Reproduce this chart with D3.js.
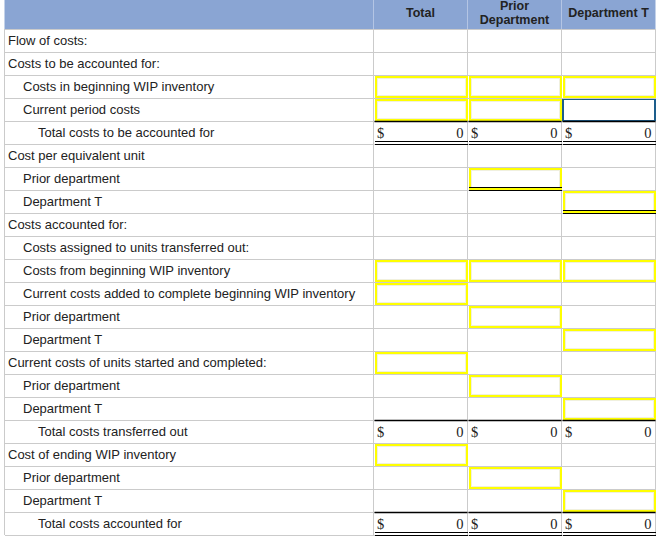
<!DOCTYPE html>
<html><head><meta charset="utf-8">
<script src="https://cdn.jsdelivr.net/npm/d3@7"></script>
<style>
html,body{margin:0;padding:0;background:#fff;}
svg{display:block;}
</style></head>
<body>
<svg id="c" width="656" height="549"></svg>
<script>
const columns = ["Total", "Prior Department", "Department T"];
const rowLabels = [
  "Flow of costs:",
  "Costs to be accounted for:",
  "Costs in beginning WIP inventory",
  "Current period costs",
  "Total costs to be accounted for",
  "Cost per equivalent unit",
  "Prior department",
  "Department T",
  "Costs accounted for:",
  "Costs assigned to units transferred out:",
  "Costs from beginning WIP inventory",
  "Current costs added to complete beginning WIP inventory",
  "Prior department",
  "Department T",
  "Current costs of units started and completed:",
  "Prior department",
  "Department T",
  "Total costs transferred out",
  "Cost of ending WIP inventory",
  "Prior department",
  "Department T",
  "Total costs accounted for"
];
const rowIndents = [0,0,1,1,2,0,1,1,0,1,1,1,1,1,0,1,1,2,0,1,1,2];
// input cells: [row, column index]
const inputCells = [
  [2,0],[2,1],[2,2],[3,0],[3,1],[3,2],
  [6,1],[7,2],
  [10,0],[10,1],[10,2],[11,0],[12,1],[13,2],
  [14,0],[15,1],[16,2],
  [18,0],[19,1],[20,2]
];
const activeCell = [3,2];
const totalRows = [4, 17, 21];
const totalValues = [[0,0,0],[0,0,0],[0,0,0]];
const doubleUnder = [[4,0],[4,1],[4,2],[6,1],[7,2],[21,0],[21,1],[21,2]];

(function(){
const svg = d3.select("#c");
const left = 4.5, labelRight = 373.5, right = 655.5, tableTop = 29, tableBottom = 535;
const y = d3.scaleBand().domain(d3.range(rowLabels.length)).range([tableTop, tableBottom]);
const x = d3.scaleBand().domain(d3.range(columns.length)).range([labelRight, right]);
const rh = y.bandwidth();

// header
svg.append("rect").attr("x", left).attr("y", 0).attr("width", right-left).attr("height", tableTop)
  .attr("fill", "#8aa5d3");
svg.selectAll("line.hsep").data(d3.range(columns.length)).join("line")
  .attr("x1", d => x(d)).attr("x2", d => x(d)).attr("y1", 0).attr("y2", tableTop)
  .attr("stroke", "#b4c5e4").attr("stroke-width", 1);
const hdr = svg.append("g").attr("font-family", "Arial, 'Liberation Sans', sans-serif")
  .attr("font-weight", "bold").attr("font-size", "12.5px").attr("fill", "#222").attr("text-anchor", "middle");
columns.forEach((c, i) => {
  const words = c === "Prior Department" ? ["Prior", "Department"] : [c];
  const cx = x(i) + x.bandwidth()/2;
  if (words.length === 1) {
    hdr.append("text").attr("x", cx).attr("y", 17).text(words[0]);
  } else {
    hdr.append("text").attr("x", cx).attr("y", 10).text(words[0]);
    hdr.append("text").attr("x", cx).attr("y", 24).text(words[1]);
  }
});

// grid
const grid = svg.append("g").attr("stroke", "#cbcbcb").attr("stroke-width", 1).attr("shape-rendering", "crispEdges");
grid.selectAll("line.h").data(d3.range(rowLabels.length + 1)).join("line")
  .attr("x1", left).attr("x2", right)
  .attr("y1", d => Math.round(tableTop + d*rh) + 0.5).attr("y2", d => Math.round(tableTop + d*rh) + 0.5);
grid.selectAll("line.v").data([left, ...d3.range(columns.length).map(i => x(i)), right]).join("line")
  .attr("x1", d => d).attr("x2", d => d).attr("y1", tableTop).attr("y2", tableBottom);

// labels
svg.append("g").attr("font-family", "Arial, 'Liberation Sans', sans-serif").attr("font-size", "13px").attr("fill", "#222")
  .selectAll("text").data(rowLabels).join("text")
  .attr("x", (d, i) => 8 + rowIndents[i]*15)
  .attr("y", (d, i) => y(i) + rh/2 + 4.5)
  .text(d => d);

// input cells
const inp = svg.append("g").attr("shape-rendering", "crispEdges");
inputCells.forEach(([r, c]) => {
  inp.append("rect").attr("x", x(c) + 2).attr("y", y(r) + 2)
    .attr("width", x.bandwidth() - 3).attr("height", rh - 3)
    .attr("fill", "#fff").attr("stroke", "#ffff00").attr("stroke-width", 2);
  inp.append("rect").attr("x", x(c) + 3.5).attr("y", y(r) + 3.5)
    .attr("width", x.bandwidth() - 6).attr("height", rh - 6)
    .attr("fill", "none").attr("stroke", "#e6e6c8").attr("stroke-width", 0.6);
});
inp.append("rect").attr("x", x(activeCell[1]) + 1.5).attr("y", y(activeCell[0]) + 1.5)
  .attr("width", x.bandwidth() - 2).attr("height", rh - 2)
  .attr("fill", "#fff").attr("stroke", "#1d5e8c").attr("stroke-width", 1.2);

// total rows
const tot = svg.append("g").attr("font-family", "'Liberation Serif', 'Times New Roman', serif").attr("font-size", "14.5px").attr("fill", "#222");
totalRows.forEach((r, k) => {
  columns.forEach((c, i) => {
    svg.append("line").attr("x1", x(i) + 1).attr("x2", x(i) + x.bandwidth()).attr("y1", y(r) + 0.5).attr("y2", y(r) + 0.5)
      .attr("stroke", "#000").attr("stroke-width", 1.6);
    tot.append("text").attr("x", x(i) + 3.5).attr("y", y(r) + rh/2 + 5.5).text("$");
    tot.append("text").attr("x", x(i) + x.bandwidth() - 4).attr("y", y(r) + rh/2 + 5.5)
      .attr("text-anchor", "end").text(d3.format(",")(totalValues[k][i]));
  });
});

// double underlines
const dbl = svg.append("g").attr("stroke", "#000").attr("stroke-width", 1.3).attr("shape-rendering", "crispEdges");
doubleUnder.forEach(([r, c]) => {
  const yb = Math.round(y(r) + rh);
  [yb - 2.5, yb + 0.5].forEach(yy => {
    dbl.append("line").attr("x1", x(c) + 1).attr("x2", x(c) + x.bandwidth()).attr("y1", yy).attr("y2", yy);
  });
});
})();
</script>
</body></html>
